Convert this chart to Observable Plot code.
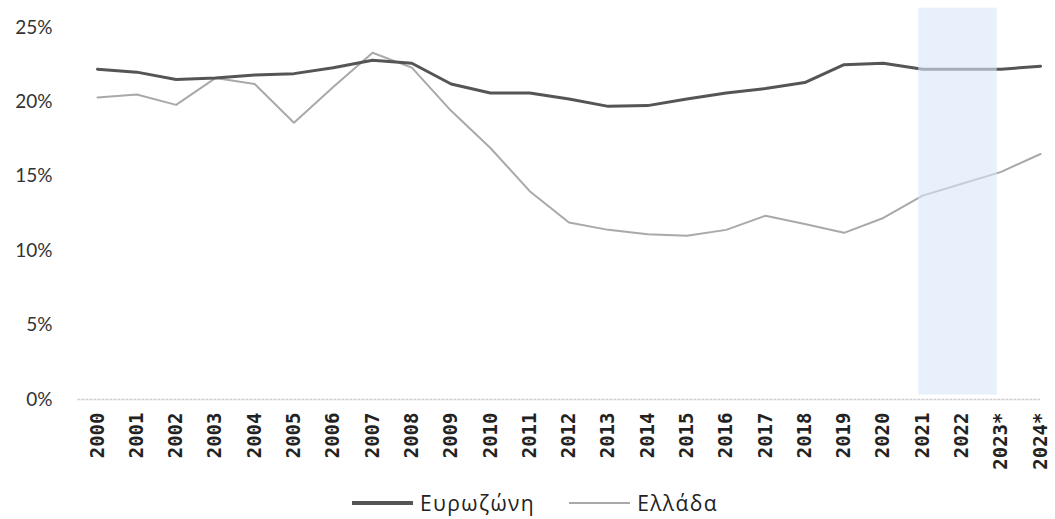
<!DOCTYPE html>
<html>
<head>
<meta charset="utf-8">
<script src="https://cdn.jsdelivr.net/npm/d3@7"></script>
<script src="https://cdn.jsdelivr.net/npm/@observablehq/plot@0.6"></script>
<style>
  html, body { margin: 0; padding: 0; background: #fff; overflow: hidden; }
  #chart { position: relative; }
  #legend { position: absolute; left: 352px; top: 491px; display: flex; align-items: center; gap: 34px;
    font-family: "Open Sans", "DejaVu Sans", sans-serif; font-size: 21px; letter-spacing: 1.4px; color: #222;
    line-height: 24px; }
  .item { display: flex; align-items: center; }
  .swatch { display: inline-block; width: 61px; height: 0; margin-right: 7px; }
</style>
</head>
<body>
<div id="chart"></div>
<div id="legend"></div>
<script>
const years = [2000,2001,2002,2003,2004,2005,2006,2007,2008,2009,2010,2011,2012,2013,2014,2015,2016,2017,2018,2019,2020,2021,2022,2023,2024];
const yearLabels = ["2000","2001","2002","2003","2004","2005","2006","2007","2008","2009","2010","2011","2012","2013","2014","2015","2016","2017","2018","2019","2020","2021","2022","2023*","2024*"];
const eurozone = [22.2,22.0,21.5,21.6,21.8,21.9,22.3,22.8,22.6,21.2,20.6,20.6,20.2,19.7,19.75,20.2,20.6,20.9,21.3,22.5,22.6,22.2,22.2,22.2,22.4];
const greece = [20.3,20.5,19.8,21.6,21.2,18.6,21.0,23.3,22.3,19.4,16.9,14.0,11.9,11.4,11.1,11.0,11.4,12.35,11.8,11.2,12.2,13.7,14.5,15.3,16.5];
const seriesNames = ["Ευρωζώνη", "Ελλάδα"];
const seriesColors = ["#555555", "#a9a9a9"];
const yTicks = [0,5,10,15,20,25];
const band = [{from: 2020.9, to: 2022.9}];

const rows = [];
years.forEach((yr, i) => {
  rows.push({year: yr, value: eurozone[i], series: seriesNames[0]});
  rows.push({year: yr, value: greece[i], series: seriesNames[1]});
});

const chart = Plot.plot({
  width: 1055,
  height: 480,
  marginLeft: 97,
  marginRight: 15,
  marginTop: 27,
  marginBottom: 81,
  x: {type: "linear", domain: [2000, 2024], axis: null, label: null},
  y: {domain: [0, 25], axis: null, label: null},
  style: {background: "#fff"},
  marks: [
    Plot.ruleY([0], {x1: 1999.5, x2: 2024, stroke: "#cfcfcf", strokeWidth: 1.5, strokeDasharray: "3,1"}),
    Plot.line(rows.filter(d => d.series === seriesNames[1]), {x: "year", y: "value", stroke: seriesColors[1], strokeWidth: 2}),
    Plot.line(rows.filter(d => d.series === seriesNames[0]), {x: "year", y: "value", stroke: seriesColors[0], strokeWidth: 3}),
    Plot.rectY(band, {x1: "from", x2: "to", y1: 0.3, y2: 26.3, fill: "#d9e7f8", fillOpacity: 0.6}),
    Plot.axisY(yTicks, {anchor: "left", label: null, tickSize: 0, tickPadding: 45, tickFormat: d => d + "%",
      fontSize: 19, fontFamily: "Lato, 'Open Sans', sans-serif", fill: "#333"}),
    Plot.axisX(years, {anchor: "bottom", label: null, tickSize: 0, tickPadding: 13, tickRotate: -90,
      tickFormat: d => yearLabels[years.indexOf(d)],
      fontSize: 19, fontWeight: "bold", fontFamily: "'DejaVu Sans Mono', monospace", fill: "#222"})
  ]
});
document.getElementById("chart").appendChild(chart);

const legend = document.getElementById("legend");
seriesNames.forEach((name, i) => {
  const item = document.createElement("div");
  item.className = "item";
  const sw = document.createElement("span");
  sw.className = "swatch";
  sw.style.borderTop = (i === 0 ? 4 : 2) + "px solid " + seriesColors[i];
  const lab = document.createElement("span");
  lab.textContent = name;
  item.appendChild(sw);
  item.appendChild(lab);
  legend.appendChild(item);
});
</script>
</body>
</html>
